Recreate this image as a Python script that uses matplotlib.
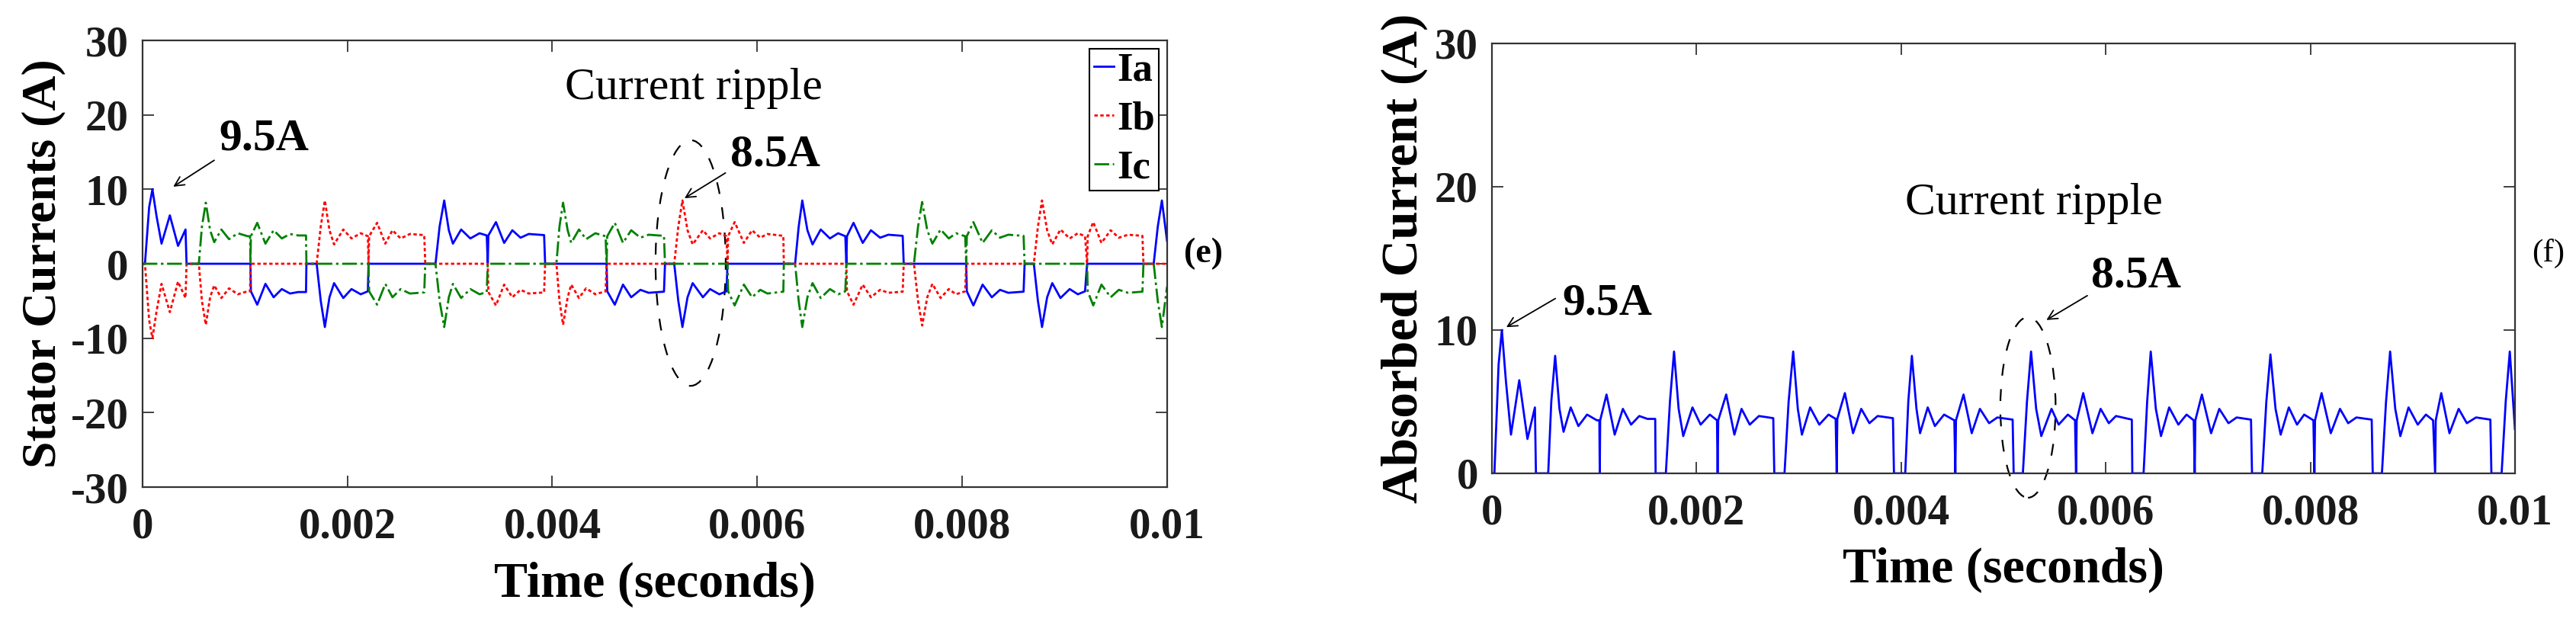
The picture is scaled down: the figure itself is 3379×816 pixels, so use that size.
import numpy as np
import matplotlib.pyplot as plt
from matplotlib.patches import Ellipse

# absorbed (dc) current: time in ms, current in A
idc_time_ms = [
    0.000, 0.024, 0.065, 0.097, 0.137, 0.186, 0.267, 0.347, 0.420, 0.430,
    0.550, 0.580, 0.618, 0.660, 0.700, 0.770, 0.845, 0.930, 1.026, 1.050,
    1.054, 1.058, 1.120, 1.200, 1.280, 1.360, 1.440, 1.520, 1.596, 1.600,
    1.700, 1.740, 1.780, 1.825, 1.870, 1.960, 2.040, 2.130, 2.200, 2.206,
    2.212, 2.290, 2.370, 2.440, 2.520, 2.610, 2.750, 2.760, 2.860, 2.900,
    2.945, 2.990, 3.030, 3.110, 3.200, 3.290, 3.360, 3.370, 3.376, 3.450,
    3.530, 3.610, 3.690, 3.770, 3.920, 3.930, 4.040, 4.070, 4.105, 4.150,
    4.185, 4.260, 4.330, 4.420, 4.520, 4.530, 4.536, 4.610, 4.690, 4.770,
    4.860, 4.940, 5.090, 5.100, 5.190, 5.230, 5.270, 5.320, 5.370, 5.470,
    5.540, 5.630, 5.700, 5.710, 5.716, 5.780, 5.870, 5.950, 6.030, 6.100,
    6.255, 6.260, 6.370, 6.405, 6.440, 6.490, 6.540, 6.620, 6.710, 6.790,
    6.860, 6.870, 6.876, 6.940, 7.030, 7.110, 7.200, 7.280, 7.420, 7.430,
    7.530, 7.570, 7.610, 7.660, 7.710, 7.790, 7.870, 7.940, 8.030, 8.040,
    8.046, 8.110, 8.200, 8.290, 8.370, 8.450, 8.600, 8.610, 8.700, 8.740,
    8.780, 8.830, 8.880, 8.960, 9.050, 9.130, 9.200, 9.220, 9.226, 9.280,
    9.360, 9.450, 9.530, 9.620, 9.760, 9.770, 9.870, 9.910, 9.950, 10.00,
]
idc_amp = [
    0.0, 0.0, 7.6, 10.0, 6.4, 2.7, 6.5, 2.4, 4.6, 0.0,
    0.0, 5.0, 8.2, 4.5, 2.9, 4.6, 3.3, 4.1, 3.7, 3.7,
    0.0, 3.7, 5.5, 2.7, 4.5, 3.4, 4.0, 3.8, 3.8, 0.0,
    0.0, 5.0, 8.5, 4.5, 2.6, 4.6, 3.4, 4.1, 3.7, 0.0,
    3.7, 5.5, 2.7, 4.5, 3.4, 4.0, 3.85, 0.0, 0.0, 5.0,
    8.5, 4.5, 2.7, 4.6, 3.4, 4.1, 3.8, 0.0, 3.8, 5.6,
    2.8, 4.5, 3.5, 4.0, 3.85, 0.0, 0.0, 5.0, 8.2, 4.5,
    2.8, 4.6, 3.3, 4.1, 3.7, 0.0, 3.7, 5.5, 2.8, 4.5,
    3.5, 3.9, 3.75, 0.0, 0.0, 5.0, 8.5, 4.5, 2.6, 4.5,
    3.4, 4.1, 3.7, 0.0, 3.7, 5.6, 2.8, 4.5, 3.5, 4.0,
    3.75, 0.0, 0.0, 5.0, 8.5, 4.5, 2.6, 4.6, 3.4, 4.1,
    3.7, 0.0, 3.7, 5.5, 2.8, 4.5, 3.5, 3.9, 3.75, 0.0,
    0.0, 5.0, 8.3, 4.5, 2.7, 4.6, 3.4, 4.1, 3.7, 0.0,
    3.7, 5.6, 2.8, 4.5, 3.5, 3.9, 3.75, 0.0, 0.0, 5.0,
    8.5, 4.5, 2.6, 4.6, 3.4, 4.1, 3.7, 0.0, 3.7, 5.6,
    2.8, 4.5, 3.5, 3.9, 3.75, 0.0, 0.0, 5.0, 8.5, 3.1,
]

# conduction sectors: start (ms) and phases (positive, negative)
sector_start_ms = [0.0, 0.43, 0.55, 1.054, 1.60, 1.70, 2.206, 2.76, 2.86, 3.37,
                   3.93, 4.04, 4.53, 5.10, 5.19, 5.71, 6.26, 6.37, 6.87, 7.43,
                   7.53, 8.04, 8.61, 8.70, 9.22, 9.77, 9.87]
sector_phases = ["ab", "", "cb", "ca", "", "ba", "bc", "", "ac", "ab",
                 "", "cb", "ca", "", "ba", "bc", "", "ac", "ab", "",
                 "cb", "ca", "", "ba", "bc", "", "ac"]

x_ticks = [0, 0.002, 0.004, 0.006, 0.008, 0.01]
x_tick_labels = ["0", "0.002", "0.004", "0.006", "0.008", "0.01"]
stator_y_ticks = [-30, -20, -10, 0, 10, 20, 30]
absorbed_y_ticks = [0, 10, 20, 30]
phase_names = ["Ia", "Ib", "Ic"]

TICK_COLOR = "#333333"
LW = 2.0


def phase_current(phase):
    """Phase current: dc current with the sign of the conduction sector."""
    t = np.array(idc_time_ms)
    idx = np.searchsorted(np.array(sector_start_ms), t, side="right") - 1
    sign = np.zeros(len(t))
    for k, i in enumerate(idx):
        pair = sector_phases[i]
        if pair[:1] == phase:
            sign[k] = 1.0
        elif pair[1:] == phase:
            sign[k] = -1.0
    return sign * np.array(idc_amp)


def style_axes(ax, yticks, xlabel, ylabel, ylabel_x, xlabel_y, ylabel_size=46):
    """MATLAB like box with inward ticks and bold Times labels."""
    ax.set_xlim(0, 0.01)
    ax.set_ylim(yticks[0], yticks[-1])
    ax.set_xticks(x_ticks)
    ax.set_xticklabels(x_tick_labels)
    ax.set_yticks(yticks)
    ax.set_yticklabels([str(v) for v in yticks])
    ax.tick_params(direction="in", length=11, width=1.3, top=True, right=True,
                   labelsize=41, color=TICK_COLOR, labelcolor="#1a1a1a")
    ax.tick_params(axis="x", pad=19)
    ax.tick_params(axis="y", pad=13)
    for lab in ax.get_xticklabels() + ax.get_yticklabels():
        lab.set_fontweight("bold")
    for sp in ax.spines.values():
        sp.set_linewidth(1.6)
        sp.set_color(TICK_COLOR)
    ax.set_xlabel(xlabel, fontsize=47.5, fontweight="bold", va="center")
    ax.xaxis.set_label_coords(0.5, xlabel_y)
    ax.set_ylabel(ylabel, fontsize=ylabel_size, fontweight="bold", va="center")
    ax.yaxis.set_label_coords(ylabel_x, 0.5)


def mark(ax, text, xy, xytext, pos):
    """Bold value label with a thin arrow to the peak."""
    ax.text(pos[0], pos[1], text, fontsize=43, fontweight="bold", ha="left", va="baseline")
    ax.annotate("", xy=xy, xytext=xytext,
                arrowprops=dict(arrowstyle="->", color="black", lw=1.3,
                                mutation_scale=22, shrinkA=0, shrinkB=0))


plt.rcParams["font.family"] = ["Liberation Serif", "DejaVu Serif"]
plt.rcParams["axes.unicode_minus"] = False

fig = plt.figure(figsize=(33.8, 8.16), dpi=100)
t_s = np.array(idc_time_ms) / 1000.0

# (e) stator currents
ax1 = fig.add_axes([0.0553, 0.2169, 0.3976, 0.7181])
ax1.plot(t_s, phase_current("a"), color="#0000ff", lw=LW, label=phase_names[0])
ax1.plot(t_s, phase_current("b"), color="#ff0000", lw=LW, ls=(0, (1.6, 1.2)), label=phase_names[1])
ax1.plot(t_s, phase_current("c"), color="#008000", lw=LW, ls=(0, (7, 1.7, 1.2, 1.7)), label=phase_names[2])
style_axes(ax1, stator_y_ticks, "Time (seconds)", "Stator Currents (A)", -0.0967, -0.218)
leg = ax1.legend(loc="upper right", prop=dict(weight="bold", size=38), handlelength=0.5,
                 handletextpad=0.08, labelspacing=0.3, borderpad=0.1, borderaxespad=0.2,
                 fancybox=False, framealpha=1, edgecolor="black")
leg.get_frame().set_linewidth(1.5)
ax1.text(0.00538, 22.1, "Current ripple", fontsize=43, ha="center", va="baseline")
mark(ax1, "9.5A", (0.0003, 10.35), (0.0007, 13.9), (0.000744, 15.3))
mark(ax1, "8.5A", (0.00529, 8.8), (0.00569, 12.2), (0.00574, 13.2))
ax1.add_patch(Ellipse((0.00535, 0.1), 0.000685, 33, fill=False, ec="black",
                      lw=1.6, ls=(0, (7, 8)), clip_on=False))
fig.text(0.4669, 0.592, "(e)", fontsize=33, fontweight="bold", ha="center", va="center")

# (f) absorbed current
ax2 = fig.add_axes([0.5790, 0.2390, 0.3970, 0.6912])
ax2.plot(t_s, idc_amp, color="#0000ff", lw=LW)
style_axes(ax2, absorbed_y_ticks, "Time (seconds)", "Absorbed Current (A)", -0.0857, -0.225,
           ylabel_size=48.5)
ax2.text(0.00404, 18.1, "Current ripple", fontsize=43, ha="left", va="baseline")
mark(ax2, "9.5A", (0.00014, 10.2), (0.00062, 12.2), (0.00069, 11.1))
mark(ax2, "8.5A", (0.00542, 10.7), (0.00582, 12.4), (0.00586, 13.0))
ax2.add_patch(Ellipse((0.00524, 4.6), 0.00054, 12.6, fill=False, ec="black",
                      lw=1.6, ls=(0, (7, 8)), clip_on=False))
fig.text(0.989, 0.592, "(f)", fontsize=31, ha="center", va="center")

fig.savefig("out.png", dpi=100, facecolor="white")
